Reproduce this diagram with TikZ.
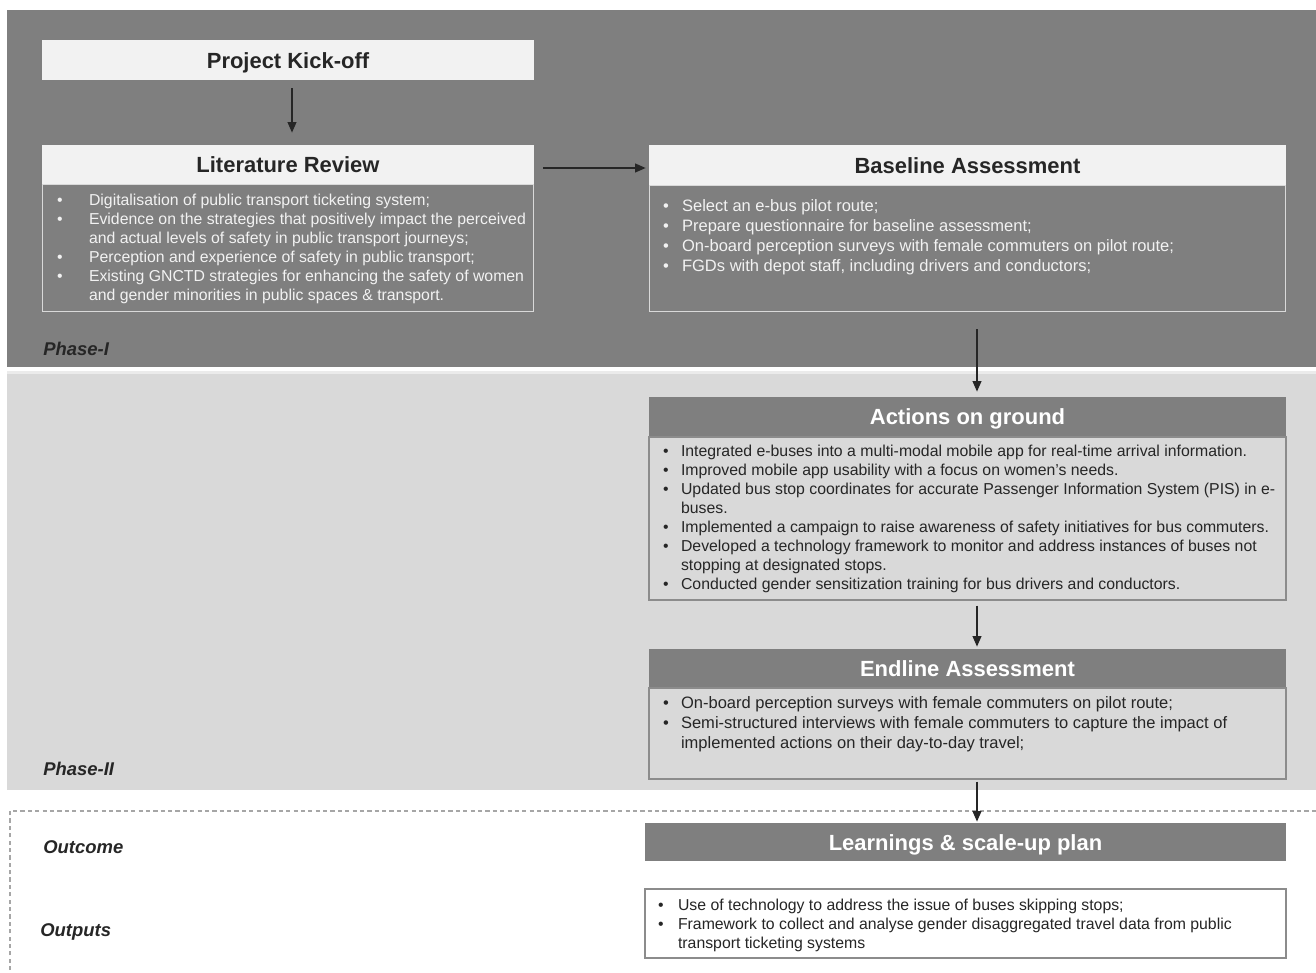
\documentclass[tikz,border=0pt]{standalone}
\usepackage{fontspec}
\setmainfont{Liberation Sans}
\usetikzlibrary{arrows.meta,positioning}
\definecolor{banddark}{HTML}{7F7F7F}
\definecolor{bandlight}{HTML}{D9D9D9}
\definecolor{boxlight}{HTML}{F2F2F2}
\definecolor{inkdark}{HTML}{262626}
\definecolor{rulegray}{HTML}{8C8C8C}
\definecolor{dashgray}{HTML}{A6A6A6}
\newcommand{\bodyfont}{\fontsize{9}{10.8}\selectfont}
\newcommand{\titlefont}{\bfseries\fontsize{12.5}{15}\selectfont}

\begin{document}
\begin{tikzpicture}[
  x=0.02cm,
  y=-0.02cm,
  every node/.style={inner sep=0pt},
  lighthead/.style={fill=boxlight, text=inkdark, font=\titlefont, minimum height=0.78cm,
                    text height=0.4cm, text depth=0.06cm},
  darkhead/.style={fill=banddark, text=white, font=\titlefont, minimum height=0.78cm,
                   text height=0.4cm, text depth=0.06cm},
  darkbody/.style={fill=banddark, draw=bandlight, line width=0.6pt, text=boxlight,
                   font=\bodyfont, anchor=north},
  lightbody/.style={fill=bandlight, draw=rulegray, line width=0.8pt, text=inkdark,
                    font=\bodyfont, anchor=north},
  outbox/.style={fill=white, draw=rulegray, line width=0.8pt, text=inkdark,
                 font=\bodyfont},
  phase/.style={font=\bfseries\itshape\fontsize{10.5}{12}\selectfont, text=inkdark,
                anchor=west},
  flow/.style={inkdark, line width=0.85pt, -{Triangle[length=6pt,width=5pt]}}
]
  \useasboundingbox (0,0) rectangle (1316,973);

  % ---- phase bands ----
  \fill[banddark] (7,10) rectangle (1316,367);
  \fill[boxlight!70!bandlight] (7,371) rectangle (1316,374);
  \fill[bandlight] (7,374) rectangle (1316,790);
  \draw[dashgray, line width=0.6pt, dash pattern=on 2.4pt off 1.8pt]
    (10,985) -- (10,811) -- (1330,811);

  % ---- phase labels ----
  \node[phase] (p1) at (43,349) {Phase-I};
  \node[phase] (p2) at (43,769) {Phase-II};
  \node[phase] (outc) at (43,847) {Outcome};
  \node[phase] (outp) at (40,932) {Outputs};

  % ---- phase I ----
  \node[lighthead, minimum width=9.84cm, minimum height=0.8cm] (kick) at (288,60) {Project Kick-off};
  \node[lighthead, minimum width=9.84cm] (litHead) at (288,164.5) {Literature Review};
  \node[darkbody, below=0pt of litHead] (litBody)
    {\parbox[c][2.54cm][c]{9.84cm}{\vspace{0.04cm}%
      \begin{tabular}{@{\hspace{0.3cm}}p{0.64cm}@{}l@{}}
        \textbullet & Digitalisation of public transport ticketing system;\\
        \textbullet & Evidence on the strategies that positively impact the perceived\\
                    & and actual levels of safety in public transport journeys;\\
        \textbullet & Perception and experience of safety in public transport;\\
        \textbullet & Existing GNCTD strategies for enhancing the safety of women\\
                    & and gender minorities in public spaces \& transport.
      \end{tabular}}};

  \node[lighthead, minimum width=12.74cm, minimum height=0.8cm] (baseHead) at (967.5,165) {Baseline Assessment};
  \node[darkbody, below=0pt of baseHead] (baseBody)
    {\parbox[c][2.52cm][t]{12.74cm}{\vspace{0.24cm}%
      \fontsize{9.4}{11.3}\selectfont
      \begin{tabular}{@{\hspace{0.28cm}}p{0.38cm}@{}l@{}}
        \textbullet & Select an e-bus pilot route;\\
        \textbullet & Prepare questionnaire for baseline assessment;\\
        \textbullet & On-board perception surveys with female commuters on pilot route;\\
        \textbullet & FGDs with depot staff, including drivers and conductors;
      \end{tabular}}};

  % ---- phase II ----
  \node[darkhead, minimum width=12.74cm] (actHead) at (967.5,416.5) {Actions on ground};
  \node[lightbody, below=0pt of actHead] (actBody)
    {\parbox[c][3.26cm][c]{12.74cm}{\vspace{0.04cm}%
      \begin{tabular}{@{\hspace{0.28cm}}p{0.36cm}@{}l@{}}
        \textbullet & Integrated e-buses into a multi-modal mobile app for real-time arrival information.\\
        \textbullet & Improved mobile app usability with a focus on women's needs.\\
        \textbullet & Updated bus stop coordinates for accurate Passenger Information System (PIS) in e-\\
                    & buses.\\
        \textbullet & Implemented a campaign to raise awareness of safety initiatives for bus commuters.\\
        \textbullet & Developed a technology framework to monitor and address instances of buses not\\
                    & stopping at designated stops.\\
        \textbullet & Conducted gender sensitization training for bus drivers and conductors.
      \end{tabular}}};

  \node[darkhead, minimum width=12.74cm, minimum height=0.76cm] (endHead) at (967.5,668) {Endline Assessment};
  \node[lightbody, below=0pt of endHead] (endBody)
    {\parbox[c][1.82cm][t]{12.74cm}{\vspace{0.14cm}%
      \fontsize{9.4}{11.3}\selectfont
      \begin{tabular}{@{\hspace{0.28cm}}p{0.36cm}@{}l@{}}
        \textbullet & On-board perception surveys with female commuters on pilot route;\\
        \textbullet & Semi-structured interviews with female commuters to capture the impact of\\
                    & implemented actions on their day-to-day travel;
      \end{tabular}}};

  % ---- outcome and outputs ----
  \node[darkhead, minimum width=12.82cm, minimum height=0.76cm] (learn) at (965.5,842) {Learnings \& scale-up plan};
  \node[outbox, minimum width=12.82cm, minimum height=1.38cm] (outList) at (965.5,923.5)
    {\parbox[c][1.38cm][c]{12.82cm}{\vspace{0.1cm}%
      \begin{tabular}{@{\hspace{0.26cm}}p{0.4cm}@{}l@{}}
        \textbullet & Use of technology to address the issue of buses skipping stops;\\
        \textbullet & Framework to collect and analyse gender disaggregated travel data from public\\
                    & transport ticketing systems
      \end{tabular}}};

  % ---- flow arrows ----
  \draw[flow, shorten <=0.16cm, shorten >=0.24cm] (kick.south -| 292,0) -- (litHead.north -| 292,0);
  \draw[flow, shorten <=0.18cm, shorten >=0.06cm] (litHead.east |- 0,168) -- (baseHead.west |- 0,168);
  \draw[flow, shorten <=0.34cm, shorten >=0.1cm] (baseBody.south -| 977,0) -- (actHead.north -| 977,0);
  \draw[flow, shorten <=0.1cm, shorten >=0.04cm] (actBody.south -| 977,0) -- (endHead.north -| 977,0);
  \draw[flow, shorten <=0.04cm, shorten >=0.02cm] (endBody.south -| 977,0) -- (learn.north -| 977,0);
\end{tikzpicture}
\end{document}
